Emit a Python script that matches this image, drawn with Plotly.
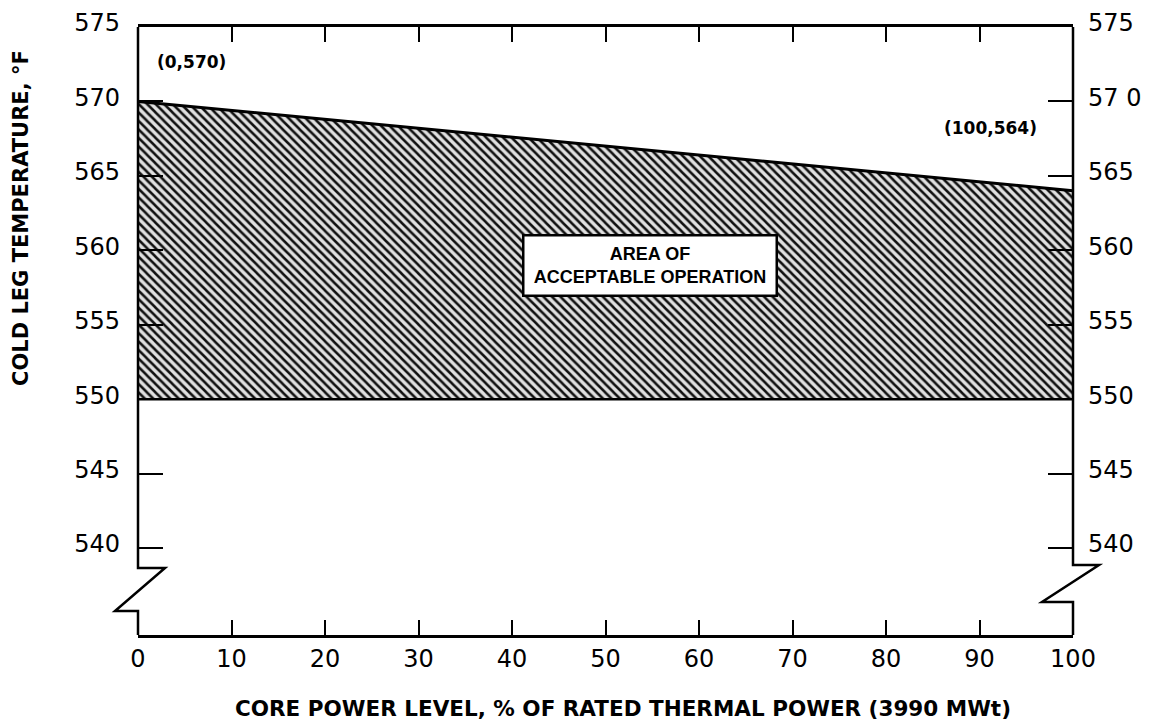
import plotly.graph_objects as go

# ---- data ----
power_pct = [0, 100]                 # core power, % RTP
upper_limit_F = [570, 564]           # upper bound of acceptable Tcold
lower_limit_F = [550, 550]           # lower bound
x_ticks = list(range(0, 101, 10))
y_ticks = list(range(540, 576, 5))
y_tick_text_left = [str(v) for v in y_ticks]
y_tick_text_right = ["540", "545", "550", "555", "560", "565", "57 0", "575"]

X_RANGE = [0, 100]
Y_RANGE = [534.16, 575]

OFF = 8  # browser body margin
W, H = 1151 - OFF, 723 - OFF
ML, MR, MT, MB = 138 - OFF, 78, 27 - OFF, 88
PW, PH = W - ML - MR, H - MT - MB

def xp(px):  # screen pixel x -> paper
    return (px - OFF - ML) / PW

def yp(py):  # screen pixel y -> paper
    return (H + OFF - MB - py) / PH

fig = go.Figure()

fig.add_trace(go.Scatter(
    x=power_pct, y=lower_limit_F, mode="lines",
    line=dict(color="black", width=2.5), showlegend=False, hoverinfo="skip"))
fig.add_trace(go.Scatter(
    x=power_pct, y=upper_limit_F, mode="lines", fill="tonexty",
    fillcolor="rgba(0,0,0,0)",
    fillpattern=dict(shape="\\", size=6, solidity=0.42,
                     fgcolor="#111111", bgcolor="#e0e0e0", fillmode="replace"),
    line=dict(color="black", width=3), showlegend=False, hoverinfo="skip"))
# dummy trace for right axis
fig.add_trace(go.Scatter(x=[None], y=[None], yaxis="y2", showlegend=False))

tickfont = dict(family="DejaVu Sans", size=24, color="black")

fig.update_layout(
    width=W, height=H,
    margin=dict(l=ML, r=MR, t=MT, b=MB, autoexpand=False),
    paper_bgcolor="white", plot_bgcolor="white",
    xaxis=dict(range=X_RANGE, tickvals=x_ticks, ticks="inside", ticklen=15,
               tickwidth=2, tickcolor="black", showline=True, linewidth=2.5,
               linecolor="black", mirror="ticks", showgrid=False, zeroline=False,
               tickfont=tickfont, ticklabelstandoff=0, automargin=False),
    yaxis=dict(range=Y_RANGE, tickvals=y_ticks, ticktext=y_tick_text_left,
               ticks="inside", ticklen=25, tickwidth=2, tickcolor="black",
               showline=False, showgrid=False, zeroline=False, automargin=False,
               tickfont=tickfont, ticklabelstandoff=17, ticklabelshift=-4),
    yaxis2=dict(range=Y_RANGE, tickvals=y_ticks, ticktext=y_tick_text_right,
                overlaying="y", side="right", automargin=False,
                ticks="inside", ticklen=25, tickwidth=2, tickcolor="black",
                showline=False, showgrid=False, zeroline=False,
                tickfont=tickfont, ticklabelstandoff=14, ticklabelshift=-4),
)

# axis lines with breaks (drawn in paper space)
def zig_path(x0px, top_break_py, out_dx, in_dx, bot_break_py):
    xa = xp(x0px)
    pts = [
        (xa, 1.0),
        (xa, yp(top_break_py)),
        (xp(x0px + out_dx), yp(top_break_py)),
        (xp(x0px + in_dx), yp(bot_break_py)),
        (xa, yp(bot_break_py)),
        (xa, 0.0),
    ]
    return "M " + " L ".join(f"{a:.5f},{b:.5f}" for a, b in pts)

fig.add_shape(type="path", xref="paper", yref="paper",
              path=zig_path(138, 568, 27, -23, 611),
              line=dict(color="black", width=2.5))
fig.add_shape(type="path", xref="paper", yref="paper",
              path=zig_path(138 + PW, 565, 26, -31, 602),
              line=dict(color="black", width=2.5))

def note(text, px, py, **kw):
    fig.add_annotation(text=text, x=xp(px), y=yp(py), xref="paper", yref="paper",
                       xanchor="center", yanchor="middle", showarrow=False, **kw)

note("<b>(0,570)</b>", 191, 62, font=dict(family="DejaVu Sans", size=17, color="black"))
note("<b>(100,564)</b>", 990, 128, font=dict(family="DejaVu Sans", size=17, color="black"))
note("<b>AREA OF<br>ACCEPTABLE OPERATION</b>", 650, 265,
     width=251, height=58, borderpad=0, bgcolor="white", bordercolor="black",
     borderwidth=2.5, font=dict(family="Liberation Sans", size=18, color="black"))
note("<b>COLD LEG TEMPERATURE, °F</b>", 21, 218, textangle=-90,
     font=dict(family="DejaVu Sans", size=21, color="black"))
note("<b>CORE POWER LEVEL, % OF RATED THERMAL POWER (3990 MWt)</b>", 623, 708,
     font=dict(family="DejaVu Sans", size=21.5, color="black"))

fig.write_html("out.html")
